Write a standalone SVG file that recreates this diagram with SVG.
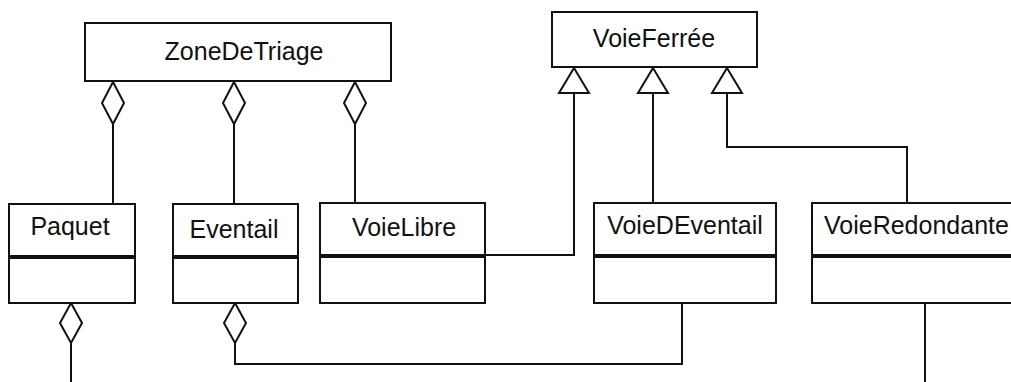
<svg xmlns="http://www.w3.org/2000/svg" width="1011" height="382" viewBox="0 0 1011 382">
<style>
.box{fill:#fff;stroke:#111;stroke-width:2}
.sep{stroke:#111;stroke-width:4}
.lbl{font-family:"Liberation Sans",Arial,sans-serif;font-size:25px;fill:#111;text-anchor:middle}
.ln{fill:none;stroke:#111;stroke-width:2}
.dia{fill:#fff;stroke:#111;stroke-width:2}
.tri{fill:#fff;stroke:#111;stroke-width:2}
</style>
<rect width="1011" height="382" fill="#fff"/>
<g id="connectors">
<path class="ln" d="M113,124 V204"/>
<path class="ln" d="M234,124 V204"/>
<path class="ln" d="M355,124 V203"/>
<path class="ln" d="M71,343 V382"/>
<path class="ln" d="M235,343 V364 H682 V303"/>
<path class="ln" d="M485,255 H574 V93"/>
<path class="ln" d="M653,203 V93"/>
<path class="ln" d="M907,203 V147 H727 V93"/>
<path class="ln" d="M925,303 V382"/>
<polygon class="dia" points="113,82 124,103 113,124 102,103"/>
<polygon class="dia" points="234,82 245,103 234,124 223,103"/>
<polygon class="dia" points="355,82 366,103 355,124 344,103"/>
<polygon class="dia" points="71,303 82,323 71,343 60,323"/>
<polygon class="dia" points="235,303 246,323 235,343 224,323"/>
<polygon class="tri" points="574,68 589,93 559,93"/>
<polygon class="tri" points="653,68 668,93 638,93"/>
<polygon class="tri" points="727,68 742,93 712,93"/>
</g>
<g id="ZoneDeTriage">
<rect class="box" x="85" y="23" width="306" height="58"/>
<text class="lbl" x="244" y="60">ZoneDeTriage</text>
</g>
<g id="VoieFerree">
<rect class="box" x="552" y="12" width="205" height="55"/>
<text class="lbl" x="654" y="47">VoieFerrée</text>
</g>
<g id="Paquet">
<rect class="box" x="9" y="204" width="126" height="99"/>
<line class="sep" x1="9" y1="257" x2="135" y2="257"/>
<text class="lbl" x="70" y="235">Paquet</text>
</g>
<g id="Eventail">
<rect class="box" x="173" y="204" width="125" height="99"/>
<line class="sep" x1="173" y1="257" x2="298" y2="257"/>
<text class="lbl" x="234" y="238">Eventail</text>
</g>
<g id="VoieLibre">
<rect class="box" x="320" y="203" width="165" height="100"/>
<line class="sep" x1="320" y1="256" x2="485" y2="256"/>
<text class="lbl" x="404" y="236">VoieLibre</text>
</g>
<g id="VoieDEventail">
<rect class="box" x="594" y="203" width="182" height="100"/>
<line class="sep" x1="594" y1="256" x2="776" y2="256"/>
<text class="lbl" x="685" y="234">VoieDEventail</text>
</g>
<g id="VoieRedondante">
<rect class="box" x="812" y="203" width="210" height="100"/>
<line class="sep" x1="812" y1="256" x2="1022" y2="256"/>
<text class="lbl" x="824" y="234" style="text-anchor:start">VoieRedondante</text>
</g>
</svg>
